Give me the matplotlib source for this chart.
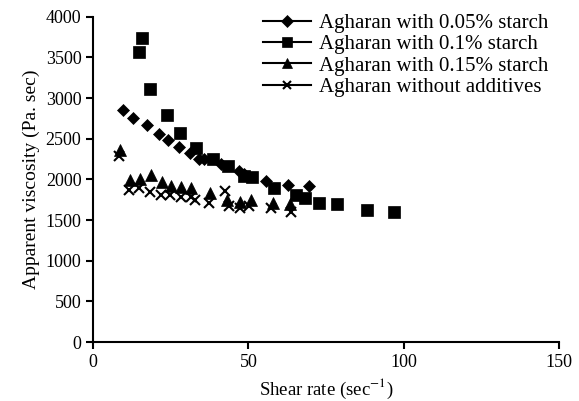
import matplotlib
matplotlib.use('Agg')
from matplotlib import pyplot as plt
from matplotlib.lines import Line2D

plt.rcParams['font.family'] = ['Liberation Serif', 'DejaVu Serif']
plt.rcParams['mathtext.fontset'] = 'stix'

# Agharan with 0.05% starch
x_005 = [9.7, 12.9, 17.3, 21.1, 24.0, 27.5, 31.3, 34.0, 35.7, 41.3, 47.1, 48.7, 55.6, 62.7, 69.6]
y_005 = [2850, 2750, 2665, 2555, 2490, 2395, 2330, 2255, 2255, 2195, 2105, 2065, 1985, 1935, 1920]

# Agharan with 0.1% starch
x_01 = [14.6, 15.6, 18.3, 23.8, 28.1, 33.2, 38.6, 43.5, 48.7, 51.1, 58.2, 65.2, 68.2, 72.9, 78.7, 88.2, 97.0]
y_01 = [3570, 3740, 3110, 2795, 2570, 2385, 2250, 2165, 2045, 2025, 1895, 1805, 1770, 1705, 1695, 1630, 1600]

# Agharan with 0.15% starch
x_015 = [8.7, 11.9, 15.2, 18.7, 22.1, 25.1, 28.4, 31.4, 37.6, 43.0, 47.3, 50.8, 57.9, 63.3]
y_015 = [2365, 1995, 2005, 2055, 1970, 1925, 1910, 1890, 1830, 1745, 1720, 1745, 1705, 1695]

# Agharan without additives
x_0 = [8.3, 11.6, 14.8, 18.4, 21.9, 24.9, 28.4, 31.4, 32.9, 37.3, 42.6, 43.8, 47.3, 50.2, 57.4, 63.7]
y_0 = [2285, 1865, 1890, 1845, 1810, 1810, 1785, 1780, 1745, 1705, 1855, 1670, 1650, 1670, 1650, 1605]

labels = ['Agharan with 0.05% starch', 'Agharan with 0.1% starch',
          'Agharan with 0.15% starch', 'Agharan without additives']

fig = plt.figure(figsize=(5.79, 4.01), dpi=100)
ax = fig.add_axes([0.161, 0.147, 0.804, 0.811])

series = [(x_005, y_005, 'D', 6.5, labels[0]),
          (x_01, y_01, 's', 8.5, labels[1]),
          (x_015, y_015, '^', 8, labels[2]),
          (x_0, y_0, 'x', 7, labels[3])]
handles = []
for xs, ys, mk, ms, lab in series:
    ax.plot(xs, ys, linestyle='none', marker=mk, markersize=ms, color='black',
            markeredgewidth=1.5 if mk == 'x' else 0.5)
    handles.append(Line2D([], [], color='black', linewidth=1.5, marker=mk,
                          markersize=ms * 0.9, markeredgewidth=1.5 if mk == 'x' else 0.5))

ax.set_xlim(0, 150)
ax.set_ylim(0, 4000)
ax.set_xticks([0, 50, 100, 150])
ax.set_yticks(range(0, 4001, 500))
ax.spines['top'].set_visible(False)
ax.spines['right'].set_visible(False)
for s in ['left', 'bottom']:
    ax.spines[s].set_linewidth(1.5)
ax.tick_params(width=1.5, length=5, labelsize=13, colors='black')

ax.set_xlabel('Shear rate (sec$^{-1}$)', fontsize=13.5)
ax.set_ylabel('Apparent viscosity (Pa. sec)', fontsize=14)

ax.legend(handles, labels, loc='upper right', bbox_to_anchor=(1.017, 1.068), frameon=False,
          fontsize=15, handlelength=2.3, labelspacing=0.08, handletextpad=0.35)

fig.savefig('out.png', dpi=100)
